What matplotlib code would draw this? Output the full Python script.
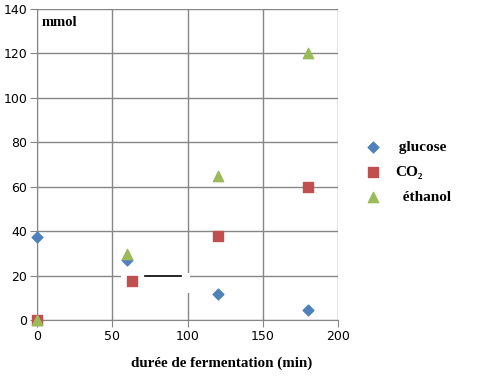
import matplotlib
matplotlib.use('Agg')
import matplotlib.pyplot as plt
from matplotlib.patches import Rectangle

# values
t_glucose = [0, 60, 120, 180]
glucose = [37.5, 27.2, 11.5, 4.3]
t_co2 = [0, 63, 120, 180]
co2 = [0, 17.5, 37.8, 59.8]
t_ethanol = [0, 60, 120, 180]
ethanol = [0, 29.5, 65, 120]

labels = [' glucose', 'CO₂', '  éthanol']
colors = ['#4F81BD', '#C0504D', '#9BBB59']
serif = ['Liberation Serif', 'DejaVu Serif']

fig = plt.figure(figsize=(4.8, 3.81), dpi=100)
ax = fig.add_axes([37 / 480, 1 - 320 / 381, 301 / 480, 311 / 381])

ax.set_xlim(0, 200)
ax.set_ylim(0, 140)
ax.set_xticks(range(0, 201, 50))
ax.set_yticks(range(0, 141, 20))
ax.grid(True, color='#868686', linewidth=1.0, zorder=0)
ax.set_axisbelow(True)
for side in ['top', 'right']:
    ax.spines[side].set_visible(False)
for side in ['left', 'bottom']:
    ax.spines[side].set_color('#868686')
ax.tick_params(direction='out', length=5, color='#868686', labelsize=9, pad=2)

# white box with short black line left over in the original picture
ax.add_patch(Rectangle((55.8, 12.2), 45.9, 9.0, facecolor='white', edgecolor='none', zorder=1.5))
ax.plot([71.8, 95.5], [20, 20], color='black', linewidth=1.2, zorder=1.6)

h1 = ax.scatter(t_glucose, glucose, marker='D', s=30, color=colors[0], zorder=3, clip_on=False)
h2 = ax.scatter(t_co2, co2, marker='s', s=50, color=colors[1], zorder=3, clip_on=False)
h3 = ax.scatter(t_ethanol, ethanol, marker='^', s=55, color=colors[2], zorder=3, clip_on=False)

ax.text(3, 137, 'mmol', family=serif, fontweight='bold', fontsize=10.5, va='top', ha='left')
fig.text(222 / 480, 1 - 363 / 381, 'durée de fermentation (min)', family=serif,
         fontweight='bold', fontsize=10.8, ha='center', va='center')

leg = fig.legend([h1, h2, h3], labels, loc='upper left',
                 bbox_to_anchor=(344 / 480, 1 - 127 / 381), frameon=False,
                 prop={'family': serif, 'weight': 'bold', 'size': 11},
                 labelspacing=0.72, handletextpad=0.45, scatterpoints=1)

fig.savefig('out.png', dpi=100)
